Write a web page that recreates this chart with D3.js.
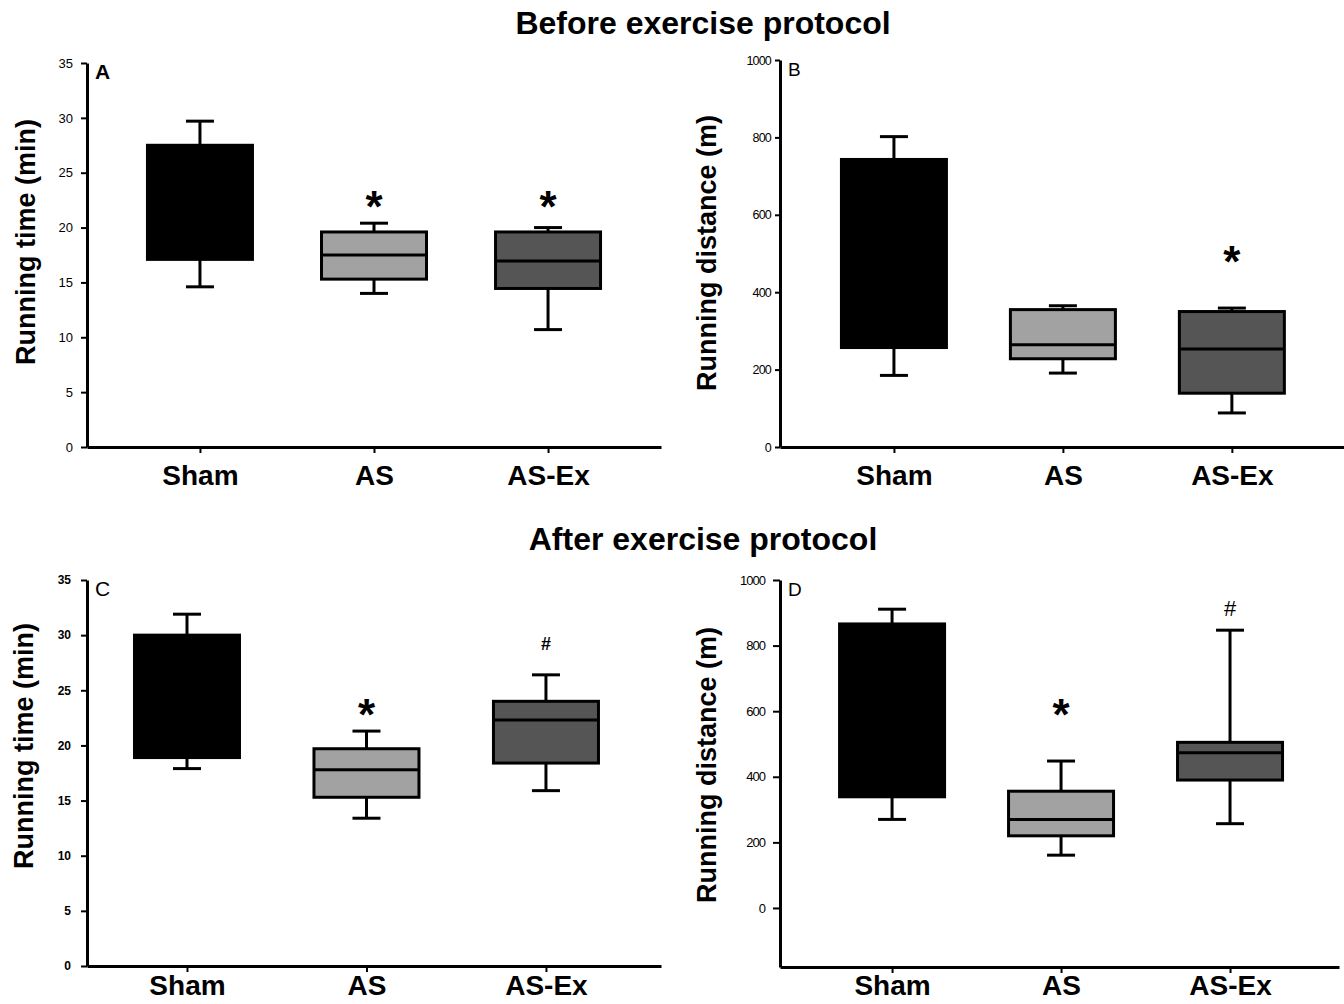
<!DOCTYPE html>
<html>
<head>
<meta charset="utf-8">
<script src="https://cdn.jsdelivr.net/npm/d3@7"></script>
<style>
  body { margin: 0; background: #fff; }
  svg { display: block; font-family: "Liberation Sans", Arial, sans-serif; }
</style>
</head>
<body>
<svg id="fig" width="1344" height="1004"></svg>
<script>
// ---------------------------//
//          DATA              //
// ---------------------------//
const groups = ["Sham", "AS", "AS-Ex"];
const fills = ["#000000", "#a2a2a2", "#555555"];

// per group: [lower whisker, q1, median, q3, upper whisker]
// (median of Sham is hidden inside the black box)
const timeBefore = [[14.6, 17.1, null, 27.5, 29.7], [14.0, 15.3, 17.5, 19.6, 20.4], [10.7, 14.45, 16.95, 19.6, 20.0]];
const distBefore = [[185, 257, null, 743, 802], [191, 228, 264, 355, 365], [88, 139, 253, 350, 359]];
const timeAfter  = [[17.9, 18.9, null, 30.0, 31.9], [13.4, 15.3, 17.8, 19.7, 21.3], [15.9, 18.4, 22.3, 24.0, 26.4]];
const distAfter  = [[270, 339, null, 866, 911], [161, 220, 270, 356, 448], [257, 390, 473, 505, 847]];

// significance signs and the height they sit at
const timeBeforeMarks = ["", "*", "*"];
const timeBeforeMarkAt = [null, 22.8, 22.8];
const distBeforeMarks = ["", "", "*"];
const distBeforeMarkAt = [null, null, 504];
const timeAfterMarks = ["", "*", "#"];
const timeAfterMarkAt = [null, 23.7, 29.2];
const distAfterMarks = ["", "*", "#"];
const distAfterMarkAt = [null, 619, 915];

const timeTicks = [0, 5, 10, 15, 20, 25, 30, 35];
const distTicks = [0, 200, 400, 600, 800, 1000];

const titles = ["Before exercise protocol", "After exercise protocol"];

// ---------------------------//
//          LAYOUT            //
// ---------------------------//
const svg = d3.select("#fig");

svg.selectAll("text.title")
  .data(titles)
  .enter()
  .append("text")
  .attr("class", "title")
  .attr("x", 703)
  .attr("y", (d, i) => i === 0 ? 34 : 550)
  .attr("text-anchor", "middle")
  .attr("font-size", 32)
  .attr("font-weight", "bold")
  .text(d => d);

const panels = [
  { stats: timeBefore, marks: timeBeforeMarks, markAt: timeBeforeMarkAt, yDomain: [0, 35], ticks: timeTicks,
    left: 87, right: 661, top: 63, bottom: 447, pad: 0.649, align: 0.5,
    tickSize: 6, tickPad: 8, tickFont: 13, tickWeight: "normal", tickSpacing: 0,
    letter: "A", letterWeight: "bold", letterSize: 21,
    yLabel: "Running time (min)", labelX: 35, labelY: 242, catPad: 12,
    hashSize: 17, hashWeight: "bold" },
  { stats: distBefore, marks: distBeforeMarks, markAt: distBeforeMarkAt, yDomain: [0, 1000], ticks: distTicks,
    left: 780, right: 1344, top: 60, bottom: 447, pad: 0.669, align: 0.504,
    tickSize: 5, tickPad: 4, tickFont: 12.5, tickWeight: "normal", tickSpacing: -0.8,
    letter: "B", letterWeight: "normal", letterSize: 19,
    yLabel: "Running distance (m)", labelX: 716, labelY: 253, catPad: 12,
    hashSize: 17, hashWeight: "bold" },
  { stats: timeAfter, marks: timeAfterMarks, markAt: timeAfterMarkAt, yDomain: [0, 35], ticks: timeTicks,
    left: 87, right: 661, top: 580, bottom: 966, pad: 0.599, align: 0.465,
    tickSize: 6, tickPad: 10, tickFont: 12, tickWeight: "bold", tickSpacing: 0,
    letter: "C", letterWeight: "normal", letterSize: 21,
    yLabel: "Running time (min)", labelX: 33, labelY: 746, catPad: 3,
    hashSize: 18, hashWeight: "bold" },
  { stats: distAfter, marks: distAfterMarks, markAt: distAfterMarkAt, yDomain: [-180, 1000], ticks: distTicks,
    left: 780, right: 1339, top: 580, bottom: 967, pad: 0.654, align: 0.507,
    tickSize: 7, tickPad: 8, tickFont: 13, tickWeight: "normal", tickSpacing: -1,
    letter: "D", letterWeight: "normal", letterSize: 19,
    yLabel: "Running distance (m)", labelX: 716, labelY: 765, catPad: 2,
    hashSize: 22, hashWeight: "normal" }
];

const boxW = 105;
const capW = 28;

function drawPanel(p) {
  const g = svg.append("g");
  const x = d3.scalePoint().domain(groups).range([p.left, p.right]).padding(p.pad).align(p.align);
  const y = d3.scaleLinear().domain(p.yDomain).range([p.bottom, p.top]);

  // y axis
  const ya = g.append("g")
    .attr("transform", `translate(${p.left},0)`)
    .call(d3.axisLeft(y).tickValues(p.ticks).tickFormat(d3.format("d"))
      .tickSize(p.tickSize).tickPadding(p.tickPad).tickSizeOuter(0));
  ya.select(".domain").attr("stroke-width", 3);
  ya.selectAll(".tick line").attr("stroke-width", 2);
  ya.selectAll(".tick text")
    .attr("fill", "#000")
    .attr("font-family", "'Liberation Sans', Arial, sans-serif")
    .attr("font-size", p.tickFont)
    .attr("font-weight", p.tickWeight)
    .attr("letter-spacing", p.tickSpacing);
  ya.attr("font-family", null).attr("font-size", null);

  // x axis
  const xa = g.append("g")
    .attr("transform", `translate(0,${p.bottom})`)
    .call(d3.axisBottom(x).tickSize(6).tickPadding(p.catPad).tickSizeOuter(0));
  xa.select(".domain").attr("stroke-width", 3);
  xa.selectAll(".tick line").attr("stroke-width", 2);
  xa.selectAll(".tick text")
    .attr("fill", "#000")
    .attr("font-family", "'Liberation Sans', Arial, sans-serif")
    .attr("font-size", 28)
    .attr("font-weight", "bold");
  xa.attr("font-family", null).attr("font-size", null);

  // y label
  g.append("text")
    .attr("transform", `translate(${p.labelX},${p.labelY}) rotate(-90)`)
    .attr("text-anchor", "middle")
    .attr("font-size", 27)
    .attr("font-weight", "bold")
    .text(p.yLabel);

  // panel letter
  g.append("text")
    .attr("x", p.left + 8)
    .attr("y", p.top + 16)
    .attr("font-size", p.letterSize)
    .attr("font-weight", p.letterWeight)
    .text(p.letter);

  const rows = groups.map((name, i) => ({
    name: name, fill: fills[i],
    lo: p.stats[i][0], q1: p.stats[i][1], med: p.stats[i][2], q3: p.stats[i][3], hi: p.stats[i][4],
    mark: p.marks[i], markAt: p.markAt[i]
  }));

  const box = g.selectAll("g.box").data(rows).enter().append("g").attr("class", "box");

  // whiskers
  box.append("line")
    .attr("x1", d => x(d.name)).attr("x2", d => x(d.name))
    .attr("y1", d => y(d.lo)).attr("y2", d => y(d.hi))
    .attr("stroke", "#000").attr("stroke-width", 3);
  box.append("line")
    .attr("x1", d => x(d.name) - capW / 2).attr("x2", d => x(d.name) + capW / 2)
    .attr("y1", d => y(d.hi)).attr("y2", d => y(d.hi))
    .attr("stroke", "#000").attr("stroke-width", 3);
  box.append("line")
    .attr("x1", d => x(d.name) - capW / 2).attr("x2", d => x(d.name) + capW / 2)
    .attr("y1", d => y(d.lo)).attr("y2", d => y(d.lo))
    .attr("stroke", "#000").attr("stroke-width", 3);

  // boxes
  box.append("rect")
    .attr("x", d => x(d.name) - boxW / 2)
    .attr("width", boxW)
    .attr("y", d => y(d.q3))
    .attr("height", d => y(d.q1) - y(d.q3))
    .attr("fill", d => d.fill)
    .attr("stroke", "#000").attr("stroke-width", 3);

  // medians
  box.filter(d => d.med !== null).append("line")
    .attr("x1", d => x(d.name) - boxW / 2).attr("x2", d => x(d.name) + boxW / 2)
    .attr("y1", d => y(d.med)).attr("y2", d => y(d.med))
    .attr("stroke", "#000").attr("stroke-width", 3);

  // significance marks
  box.filter(d => d.mark !== "").append("text")
    .attr("x", d => x(d.name))
    .attr("y", d => y(d.markAt))
    .attr("dy", d => d.mark === "*" ? "0.58em" : "0.35em")
    .attr("text-anchor", "middle")
    .attr("font-size", d => d.mark === "*" ? 44 : p.hashSize)
    .attr("font-weight", d => d.mark === "*" ? "bold" : p.hashWeight)
    .text(d => d.mark);
}

panels.forEach(drawPanel);
</script>
</body>
</html>
